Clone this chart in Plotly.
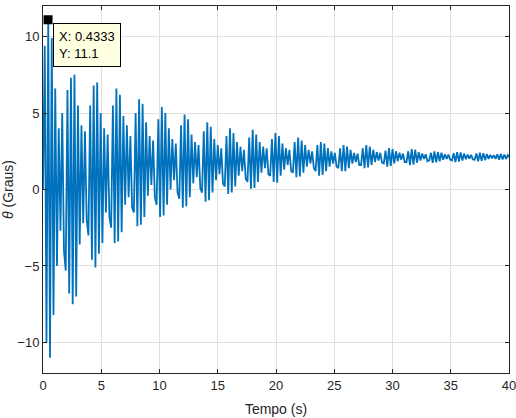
import numpy as np
import plotly.graph_objects as go

# Sample spacing of the extrema (s)
dt = 0.15

# Angle values (degrees), alternating troughs/peaks, read row by row (~1.95 s per row)
theta_rows = [
    [0.0, 9.4, -10.0, 11.1, -11.0, 9.9, -8.2, 6.6, -5.0, 4.0, -2.7, 5.0, -4.0],
    [-5.3, 6.5, -6.8, 7.3, -7.5, 7.5, -7.0, 5.5, -3.6, 4.2, -2.2, 3.8, -2.0],
    [-3.0, 5.5, -4.6, 6.8, -5.1, 7.0, -4.2, 5.0, -3.5, 4.0, -1.5, 3.6, -1.8],
    [-2.5, 5.5, -3.5, 6.6, -3.4, 6.2, -2.8, 4.8, -1.0, 4.2, -0.5, 3.5, -1.2],
    [-1.5, 5.0, -2.4, 5.9, -2.3, 5.6, -1.8, 4.4, -0.4, 3.5, 0.3, 3.2, -0.5],
    [-1.0, 4.6, -1.8, 5.4, -1.7, 5.0, -1.0, 4.0, 0.0, 3.3, 0.6, 3.0, -0.2],
    [-0.6, 4.2, -1.2, 4.9, -1.1, 4.6, -0.5, 3.6, 0.4, 3.1, 0.8, 2.9, 0.1],
    [-0.2, 3.8, -0.8, 4.4, -0.7, 4.1, -0.2, 3.3, 0.6, 2.9, 1.0, 2.7, 0.4],
    [0.2, 3.5, -0.3, 4.0, -0.2, 3.7, 0.2, 3.1, 0.9, 2.8, 1.2, 2.6, 0.7],
    [0.5, 3.4, 0.05, 3.9, 0.1, 3.6, 0.5, 3.1, 1.1, 2.8, 1.4, 2.7, 1.0],
    [0.9, 3.3, 0.5, 3.7, 0.45, 3.5, 0.9, 3.0, 1.3, 2.7, 1.6, 2.6, 1.2],
    [1.1, 3.1, 0.8, 3.4, 0.85, 3.2, 1.1, 2.9, 1.5, 2.6, 1.7, 2.5, 1.4],
    [1.2, 2.9, 0.9, 3.1, 0.95, 3.0, 1.2, 2.7, 1.5, 2.5, 1.7, 2.4, 1.5],
    [1.4, 2.7, 1.2, 2.9, 1.2, 2.8, 1.4, 2.6, 1.7, 2.4, 1.8, 2.35, 1.6],
    [1.6, 2.7, 1.4, 2.9, 1.45, 2.8, 1.6, 2.6, 1.8, 2.45, 1.9, 2.4, 1.75],
    [1.7, 2.55, 1.5, 2.7, 1.55, 2.65, 1.7, 2.5, 1.85, 2.4, 1.95, 2.35, 1.8],
    [1.8, 2.5, 1.6, 2.65, 1.62, 2.6, 1.75, 2.45, 1.9, 2.35, 2.0, 2.3, 1.85],
    [1.9, 2.4, 1.75, 2.5, 1.78, 2.45, 1.85, 2.4, 1.95, 2.3, 2.0, 2.28, 1.95],
    [1.9, 2.38, 1.8, 2.45, 1.82, 2.42, 1.9, 2.35, 1.98, 2.28, 2.02, 2.26, 1.97],
    [1.95, 2.35, 1.85, 2.4, 1.87, 2.38, 1.92, 2.32, 2.0, 2.26, 2.04, 2.24, 2.0],
    [2.3, 1.95, 2.32, 1.97, 2.28, 2.0, 2.25, 2.1],
]

x_ticks = [0, 5, 10, 15, 20, 25, 30, 35, 40]
y_ticks = [-10, -5, 0, 5, 10]
tip_x = 0.4333
tip_y = 11.1

theta = [v for row in theta_rows for v in row]
t = np.arange(len(theta)) * dt

FONT = "Liberation Sans, Arial"

fig = go.Figure()
fig.add_trace(go.Scatter(x=t, y=theta, mode="lines",
                         line=dict(color="#0072BD", width=1.8),
                         hoverinfo="skip", showlegend=False))
fig.add_trace(go.Scatter(x=[tip_x], y=[tip_y], mode="markers",
                         marker=dict(symbol="square", size=9, color="black"),
                         showlegend=False, cliponaxis=False))

fig.add_annotation(x=tip_x, y=tip_y, xref="x", yref="y",
                   text="X: 0.4333<br>Y: 11.1", showarrow=False,
                   xanchor="left", yanchor="top", align="left",
                   xshift=5, yshift=-3,
                   bgcolor="#ffffe1", bordercolor="#000000", borderwidth=1,
                   borderpad=5,
                   font=dict(family=FONT, size=13, color="#000000"))

axis_common = dict(showline=True, linecolor="#262626", linewidth=1, mirror="ticks",
                   ticks="inside", ticklen=4, tickcolor="#262626",
                   showgrid=True, gridcolor="#e0e0e0", gridwidth=1,
                   zeroline=False, automargin=False, ticklabeloverflow="allow",
                   tickfont=dict(family=FONT, size=13, color="#262626"))

fig.update_xaxes(range=[0, 40], tickvals=x_ticks,
                 title=dict(text="Tempo (s)", standoff=12,
                            font=dict(family=FONT, size=14, color="#262626")),
                 **axis_common)
fig.update_yaxes(range=[-12, 12], tickvals=y_ticks,
                 title=dict(text="<i>θ</i> (Graus)", standoff=8,
                            font=dict(family=FONT, size=14, color="#262626")),
                 **axis_common)

fig.update_layout(width=516, height=418,
                  margin=dict(l=43, r=7, t=6, b=45, pad=0),
                  paper_bgcolor="white", plot_bgcolor="white")

fig.write_html("out.html")
